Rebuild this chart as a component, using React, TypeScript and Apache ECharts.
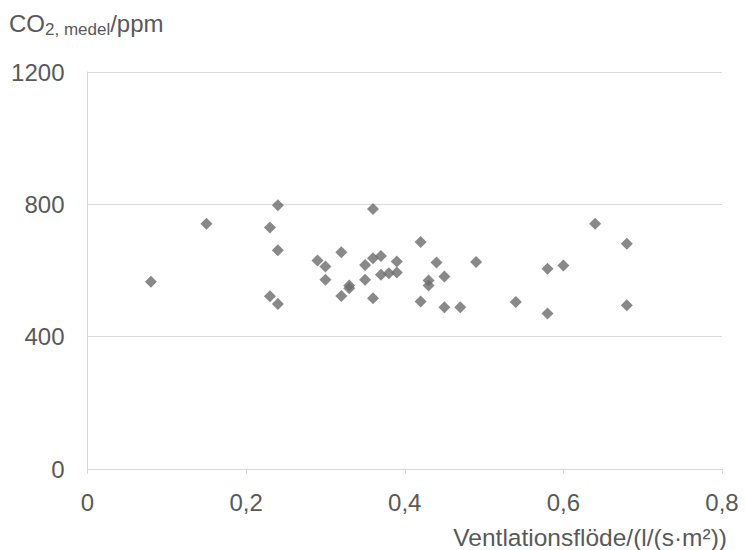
import React, { useEffect, useRef } from "react";
import * as echarts from "echarts";

const flow: number[] = [
  0.08, 0.15, 0.23, 0.23, 0.24, 0.24, 0.24,
  0.29, 0.3, 0.3, 0.32, 0.32, 0.33, 0.33,
  0.35, 0.35, 0.36, 0.36, 0.36, 0.37, 0.37, 0.38, 0.39, 0.39,
  0.42, 0.42, 0.43, 0.43, 0.44, 0.45, 0.45, 0.47, 0.49,
  0.54, 0.58, 0.58, 0.6, 0.64, 0.68, 0.68,
];
const co2: number[] = [
  566, 741, 730, 522, 797, 661, 499,
  630, 612, 572, 655, 523, 555, 546,
  617, 572, 786, 637, 516, 644, 587, 592, 627, 594,
  686, 506, 570, 555, 624, 582, 489, 489, 626,
  505, 605, 470, 615, 741, 681, 495,
];
const xTicks: number[] = [0, 0.2, 0.4, 0.6, 0.8];
const yTicks: number[] = [0, 400, 800, 1200];
const xTitle = "Ventlationsflöde/(l/(s·m²))";

const FONT = "'Liberation Sans', Arial, sans-serif";
const TXT = "#595959";
const LINE = "#d9d9d9";

export default function App() {
  const ref = useRef<HTMLDivElement>(null);
  useEffect(() => {
    if (!ref.current) return;
    const chart = echarts.init(ref.current, undefined, { renderer: "svg" });
    const data = flow.map((x, i) => [x, co2[i]]);
    chart.setOption({
      animation: false,
      textStyle: { fontFamily: FONT },
      grid: { left: 87.5, right: 24, top: 72, bottom: 81, containLabel: false },
      title: {
        left: 9,
        top: 8,
        padding: 0,
        text: "{a|CO}{b|2, medel}{a|/ppm}",
        textStyle: {
          fontWeight: "normal",
          rich: {
            a: { fontSize: 24, color: TXT, fontFamily: FONT, lineHeight: 30, fontWeight: "normal" },
            b: {
              fontSize: 17,
              color: TXT,
              fontFamily: FONT,
              fontWeight: "normal",
              verticalAlign: "bottom",
            },
          },
        },
      },
      xAxis: {
        type: "value",
        min: xTicks[0],
        max: xTicks[xTicks.length - 1],
        interval: xTicks[1] - xTicks[0],
        splitLine: { show: false },
        axisLine: { show: true, lineStyle: { color: LINE, width: 1 } },
        axisTick: { show: true, length: 5, lineStyle: { color: LINE } },
        axisLabel: {
          fontSize: 24,
          color: TXT,
          margin: 21,
          fontFamily: FONT,
          formatter: (v: number) => String(v).replace(".", ","),
        },
      },
      yAxis: {
        type: "value",
        min: yTicks[0],
        max: yTicks[yTicks.length - 1],
        interval: yTicks[1] - yTicks[0],
        splitLine: { show: true, lineStyle: { color: LINE, width: 1 } },
        axisLine: { show: true, lineStyle: { color: LINE, width: 1 } },
        axisTick: { show: false },
        axisLabel: {
          fontSize: 24,
          color: TXT,
          margin: 23,
          fontFamily: FONT,
          formatter: (v: number) => String(v),
        },
      },
      graphic: [
        {
          type: "text",
          x: 727,
          y: 537,
          style: {
            text: xTitle,
            fontSize: 24.5,
            fill: TXT,
            fontFamily: FONT,
            align: "right",
            verticalAlign: "middle",
          },
        },
      ],
      series: [
        {
          type: "scatter",
          symbol: "diamond",
          symbolSize: 12,
          itemStyle: { color: "#6d6b6b" },
          data,
        },
      ],
    });
    return () => chart.dispose();
  }, []);
  return (
    <div
      ref={ref}
      style={{ position: "absolute", left: 0, top: 0, width: 746, height: 550 }}
    />
  );
}
